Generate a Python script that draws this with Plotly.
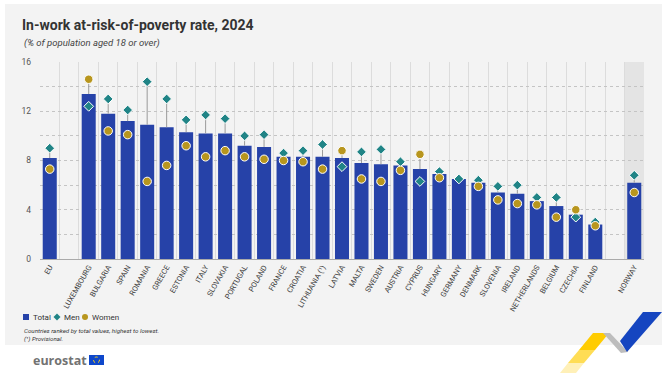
import plotly.graph_objects as go

# ---------------- data ----------------
countries = ["EU", "LUXEMBOURG", "BULGARIA", "SPAIN", "ROMANIA", "GREECE", "ESTONIA",
             "ITALY", "SLOVAKIA", "PORTUGAL", "POLAND", "FRANCE", "CROATIA",
             "LITHUANIA (¹)", "LATVIA", "MALTA", "SWEDEN", "AUSTRIA", "CYPRUS",
             "HUNGARY", "GERMANY", "DENMARK", "SLOVENIA", "IRELAND", "NETHERLANDS",
             "BELGIUM", "CZECHIA", "FINLAND", "NORWAY"]
total = [8.2, 13.4, 11.8, 11.2, 10.9, 10.7, 10.3, 10.2, 10.2, 9.2, 9.1, 8.3, 8.3,
         8.3, 8.2, 7.8, 7.7, 7.6, 7.3, 6.9, 6.5, 6.2, 5.4, 5.3, 4.7, 4.3, 3.6, 2.8, 6.2]
men = [9.0, 12.4, 13.0, 12.1, 14.4, 13.0, 11.3, 11.7, 11.4, 10.0, 10.1, 8.6, 8.8,
       9.3, 7.5, 8.7, 8.9, 7.9, 6.3, 7.1, 6.5, 6.4, 5.9, 6.0, 5.0, 5.0, 3.4, 3.0, 6.8]
women = [7.3, 14.6, 10.4, 10.1, 6.3, 7.6, 9.2, 8.3, 8.8, 8.3, 8.1, 8.0, 7.9,
         7.3, 8.8, 6.5, 6.3, 7.2, 8.5, 6.6, None, 5.9, 4.8, 4.5, 4.4, 3.4, 4.0, 2.7, 5.4]
y_ticks = [0, 4, 8, 12, 16]

# slot positions: EU, gap, 27 member states, gap, Norway
n = len(countries)
xpos = [0] + list(range(2, 2 + n - 2)) + [n + 1]

# lollipop line from bar top up to the highest marker
up = []
for t, m, w in zip(total, men, women):
    vals = [v for v in (m, w) if v is not None]
    up.append(max(0, max(vals) - t))

BLUE = "#2642A8"
TEAL = "#208486"
GOLD = "#B8961E"
FONT = "Roboto"

W, H = 670, 386
L, R, T, B = 40, 26, 62, 127
PW, PH = W - L - R, H - T - B


def px(x):
    return (x - L) / PW


def py(y):
    return (H - B - y) / PH


def poly(points):
    return "M " + " L ".join(f"{px(a):.5f},{py(b):.5f}" for a, b in points) + " Z"


fig = go.Figure()
fig.add_trace(go.Bar(
    x=xpos, y=total, name="Total", width=0.72,
    marker=dict(color=BLUE, line=dict(width=0)),
    error_y=dict(type="data", symmetric=False, array=up, arrayminus=[0] * n,
                 color="#9A9A9A", thickness=1, width=0),
    hoverinfo="y",
))
fig.add_trace(go.Scatter(
    x=xpos, y=men, name="Men", mode="markers",
    marker=dict(symbol="diamond", size=7.5, color=TEAL, line=dict(color="white", width=1)),
))
fig.add_trace(go.Scatter(
    x=xpos, y=women, name="Women", mode="markers",
    marker=dict(symbol="circle", size=8.5, color=GOLD, line=dict(color="white", width=1)),
))

shapes = [
    # grey card
    dict(type="rect", xref="paper", yref="paper", x0=px(5), x1=px(662), y0=py(345), y1=py(4),
         fillcolor="#F3F3F3", line=dict(width=0), layer="below"),
    # Norway band
    dict(type="rect", xref="x", yref="paper", x0=xpos[-1] - 0.5, x1=xpos[-1] + 0.5, y0=0, y1=1,
         fillcolor="#E4E4E4", line=dict(width=0), layer="below"),
    # legend symbols
    dict(type="rect", xref="paper", yref="paper", x0=px(23), x1=px(29), y0=py(320), y1=py(314),
         fillcolor=BLUE, line=dict(width=0)),
    dict(type="path", xref="paper", yref="paper",
         path=poly([(57, 313.5), (60.5, 317), (57, 320.5), (53.5, 317)]),
         fillcolor=TEAL, line=dict(width=0)),
    dict(type="circle", xref="paper", yref="paper", x0=px(82), x1=px(88), y0=py(320), y1=py(314),
         fillcolor=GOLD, line=dict(width=0)),
    # eurostat flag
    dict(type="rect", xref="paper", yref="paper", x0=px(89), x1=px(104), y0=py(365), y1=py(355),
         fillcolor="#0E47CB", line=dict(width=0)),
    dict(type="circle", xref="paper", yref="paper", x0=px(93.5), x1=px(99.5), y0=py(363), y1=py(357),
         fillcolor="rgba(0,0,0,0)", line=dict(color="#FFD617", width=1, dash="dot")),
    # decorative ribbon
    dict(type="path", xref="paper", yref="paper",
         path=poly([(593, 333), (609, 333), (595, 350), (579, 350)]),
         fillcolor="#FFCC00", line=dict(width=0)),
    dict(type="path", xref="paper", yref="paper",
         path=poly([(579, 350), (595, 350), (584, 363), (568, 363)]),
         fillcolor="#FFDD55", line=dict(width=0)),
    dict(type="path", xref="paper", yref="paper",
         path=poly([(568, 363), (584, 363), (576, 373), (560, 373)]),
         fillcolor="#FFF0B8", line=dict(width=0)),
    dict(type="path", xref="paper", yref="paper",
         path=poly([(603, 333), (610, 333), (628, 352), (621, 353)]),
         fillcolor="#BDBDBD", line=dict(width=0)),
    dict(type="path", xref="paper", yref="paper",
         path=poly([(643, 312), (662, 312), (627, 352), (620, 341)]),
         fillcolor="#1545C0", line=dict(width=0)),
]

annotations = [
    dict(text="<i>(% of population aged 18 or over)</i>", xref="paper", yref="paper",
         x=px(22), y=py(43), xanchor="left", yanchor="middle", showarrow=False,
         font=dict(family=FONT, size=9.5, color="#444444")),
    dict(text="Total", xref="paper", yref="paper", x=px(30.5), y=py(317.5),
         xanchor="left", yanchor="middle", showarrow=False,
         font=dict(family=FONT, size=8, color="#333333")),
    dict(text="Men", xref="paper", yref="paper", x=px(61.5), y=py(317.5),
         xanchor="left", yanchor="middle", showarrow=False,
         font=dict(family=FONT, size=8, color="#333333")),
    dict(text="Women", xref="paper", yref="paper", x=px(89.5), y=py(317.5),
         xanchor="left", yanchor="middle", showarrow=False,
         font=dict(family=FONT, size=8, color="#333333")),
    dict(text="<i>Countries ranked by total values, highest to lowest.<br>(¹) Provisional.</i>",
         xref="paper", yref="paper", x=px(22), y=py(334.5), xanchor="left", yanchor="middle",
         align="left", showarrow=False,
         font=dict(family=FONT, size=6.2, color="#333333")),
    dict(text="<b>eurostat</b>", xref="paper", yref="paper", x=px(30.5), y=py(360),
         xanchor="left", yanchor="middle", showarrow=False,
         font=dict(family="Open Sans", size=12.5, color="#727272")),
]

fig.update_layout(
    width=W, height=H,
    margin=dict(l=L, r=R, t=T, b=B, pad=0),
    paper_bgcolor="white", plot_bgcolor="#F3F3F3",
    showlegend=False,
    title=dict(text="<b>In-work at-risk-of-poverty rate, 2024</b>",
               xref="container", yref="container", x=22 / W, y=1 - 25 / H,
               xanchor="left", yanchor="middle",
               font=dict(family=FONT, size=14, color="#333333")),
    shapes=shapes, annotations=annotations,
    bargap=0.28,
)
fig.update_xaxes(
    range=[-0.5, xpos[-1] + 0.5], tickmode="array", tickvals=xpos, ticktext=countries,
    tickangle=-60, tickfont=dict(family=FONT, size=7.5, color="#404040"),
    showgrid=False, zeroline=False, showline=True, linecolor="#AAAAAA", linewidth=1, ticks="",
    minor=dict(tick0=0.5, dtick=1, showgrid=True, gridcolor="#DCDCDC", gridwidth=1, ticks=""),
)
fig.update_yaxes(
    range=[0, 16], tickmode="array", tickvals=y_ticks,
    tickfont=dict(family=FONT, size=8.5, color="#555555"), ticklabelstandoff=8,
    showgrid=True, gridcolor="#C4C4C4", griddash="dot", gridwidth=1, zeroline=False,
    minor=dict(dtick=2, showgrid=True, gridcolor="#C4C4C4", griddash="dot", gridwidth=1),
    showline=False,
)

fig.write_html("out.html", config={"displayModeBar": False},
               post_script="document.body.style.margin='0';")
